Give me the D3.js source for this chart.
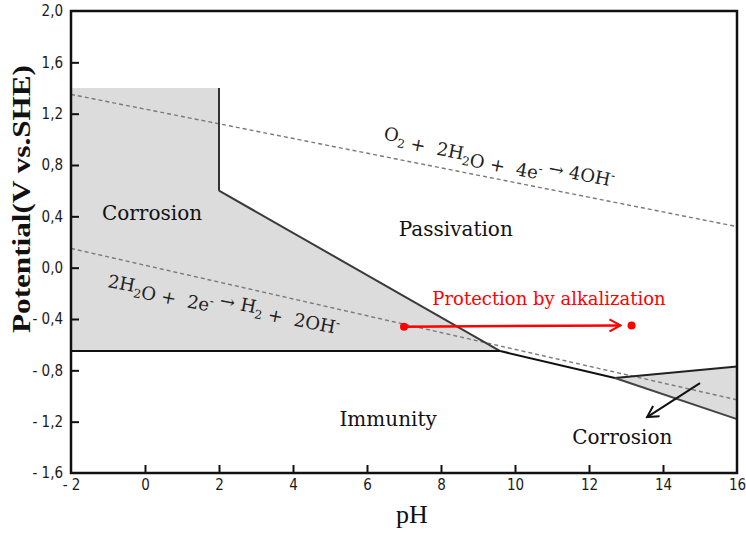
<!DOCTYPE html>
<html lang="en">
  <head>
    <meta charset="UTF-8" />
    <script src="https://cdn.jsdelivr.net/npm/d3@7"></script>
    <style>
      * {
        margin: 0;
        padding: 0;
      }
      body {
        background: #fff;
      }
      #chart {
        width: 746px;
        height: 534px;
        overflow: hidden;
      }
      .tick text {
        font-family: 'Liberation Sans Narrow', 'DejaVu Sans Condensed', sans-serif;
        font-stretch: condensed;
        font-size: 15px;
        fill: #1a1a1a;
      }
      .eq {
        white-space: pre;
      }
    </style>
    <title>Pourbaix</title>
  </head>
  <body>
    <div id="chart"></div>
  </body>
  <script>
    // axes
    const pHTicks = [-2, 0, 2, 4, 6, 8, 10, 12, 14, 16];
    const pHTickLabels = ['- 2', '0', '2', '4', '6', '8', '10', '12', '14', '16'];
    const potentialTicks = [-1.6, -1.2, -0.8, -0.4, 0.0, 0.4, 0.8, 1.2, 1.6, 2.0];
    const potentialTickLabels = ['- 1,6', '- 1,2', '- 0,8', '- 0,4', '0,0', '0,4', '0,8', '1,2', '1,6', '2,0'];

    // regions [pH, V]
    const corrosionAcid = [[-2, 1.4], [2, 1.4], [2, 0.6], [9.6, -0.65], [-2, -0.65]];
    const corrosionAlkaline = [[12.7, -0.86], [16, -0.77], [16, -1.18]];

    // boundaries
    const boundaryVertical = [[2, 1.4], [2, 0.6]];
    const boundaryDiagonal = [[2, 0.6], [9.6, -0.65]];
    const boundaryImmunity = [[-2, -0.65], [9.6, -0.65]];
    const boundaryPassive = [[9.6, -0.65], [12.7, -0.86]];
    const boundaryUpper = [[12.7, -0.86], [16, -0.77]];
    const boundaryLower = [[12.7, -0.86], [16, -1.18]];

    // water lines
    const oxygenLine = [[-2, 1.35], [16, 0.32]];
    const hydrogenLine = [[-2, 0.15], [16, -1.03]];

    // arrows
    const alkalizationPoints = [[7.0, -0.46], [13.15, -0.45]];
    const alkalizationArrow = [[7.0, -0.46], [12.85, -0.45]];
    const corrosionArrow = [[15.0, -0.9], [13.57, -1.164]];

    const regionLabels = [
      { text: 'Corrosion', pH: 0.19, v: 0.37 },
      { text: 'Passivation', pH: 8.4, v: 0.25 },
      { text: 'Immunity', pH: 6.57, v: -1.23 },
      { text: 'Corrosion', pH: 12.9, v: -1.375 },
    ];

    const width = 746;
    const height = 534;

    const x = d3.scaleLinear().domain([-2, 16]).range([71, 737]);
    const y = d3.scaleLinear().domain([-1.6, 2.0]).range([473, 11]);
    const line = d3
      .line()
      .x((d) => x(d[0]))
      .y((d) => y(d[1]));

    const svg = d3
      .select('#chart')
      .append('svg')
      .attr('width', width)
      .attr('height', height);

    const defs = svg.append('defs');
    const addMarker = (id, color) => {
      defs
        .append('marker')
        .attr('id', id)
        .attr('viewBox', '0 0 14 14')
        .attr('refX', 12)
        .attr('refY', 7)
        .attr('markerWidth', 14)
        .attr('markerHeight', 14)
        .attr('markerUnits', 'userSpaceOnUse')
        .attr('orient', 'auto')
        .append('path')
        .attr('d', 'M1,1 L12,7 L1,13')
        .attr('fill', 'none')
        .attr('stroke', color)
        .attr('stroke-width', 2);
    };
    addMarker('arrowRed', '#ff0000');
    addMarker('arrowBlack', '#111');

    // shaded regions
    svg
      .selectAll('path.region')
      .data([corrosionAcid, corrosionAlkaline])
      .join('path')
      .attr('class', 'region')
      .attr('d', (d) => line(d) + 'Z')
      .attr('fill', '#dcdcdc');

    // dashed water lines
    svg
      .selectAll('path.water')
      .data([oxygenLine, hydrogenLine])
      .join('path')
      .attr('class', 'water')
      .attr('d', line)
      .attr('fill', 'none')
      .attr('stroke', '#7a7a7a')
      .attr('stroke-width', 1.4)
      .attr('stroke-dasharray', '4,3');

    // boundaries
    const boundaries = [
      { pts: boundaryVertical, color: '#333' },
      { pts: boundaryDiagonal, color: '#3a3a3a' },
      { pts: boundaryImmunity, color: '#111' },
      { pts: boundaryPassive, color: '#111' },
      { pts: boundaryUpper, color: '#222' },
      { pts: boundaryLower, color: '#444' },
    ];
    svg
      .selectAll('path.boundary')
      .data(boundaries)
      .join('path')
      .attr('class', 'boundary')
      .attr('d', (d) => line(d.pts))
      .attr('fill', 'none')
      .attr('stroke', (d) => d.color)
      .attr('stroke-width', 2);

    // axes
    const xAxis = d3
      .axisBottom(x)
      .tickValues(pHTicks)
      .tickSize(-8)
      .tickPadding(6)
      .tickFormat((d, i) => pHTickLabels[i]);
    const yAxis = d3
      .axisLeft(y)
      .tickValues(potentialTicks)
      .tickSize(-8)
      .tickPadding(8)
      .tickFormat((d, i) => potentialTickLabels[i]);

    const gx = svg.append('g').attr('transform', 'translate(0,473)').call(xAxis);
    const gy = svg.append('g').attr('transform', 'translate(71,0)').call(yAxis);
    [gx, gy].forEach((g) => {
      g.attr('font-family', null).attr('font-size', null);
      g.select('.domain').remove();
      g.selectAll('.tick line').attr('stroke', '#111').attr('stroke-width', 2);
    });
    gx.selectAll('.tick line').filter((d) => d === -2 || d === 16).remove();
    gy.selectAll('.tick line').filter((d) => d === -1.6 || d === 2.0).remove();

    // frame
    svg
      .append('rect')
      .attr('x', x(-2))
      .attr('y', y(2.0))
      .attr('width', x(16) - x(-2))
      .attr('height', y(-1.6) - y(2.0))
      .attr('fill', 'none')
      .attr('stroke', '#111')
      .attr('stroke-width', 2.5);

    // region labels
    svg
      .selectAll('text.region-label')
      .data(regionLabels)
      .join('text')
      .attr('class', 'region-label')
      .attr('x', (d) => x(d.pH))
      .attr('y', (d) => y(d.v))
      .attr('text-anchor', 'middle')
      .attr('font-family', 'DejaVu Serif')
      .attr('font-size', 20)
      .attr('fill', '#111')
      .text((d) => d.text);

    // equations, rotated along water lines
    const drawEquation = (parts, pH, v, angle) => {
      const t = svg
        .append('text')
        .attr('class', 'eq')
        .attr('transform', `translate(${x(pH)},${y(v)}) rotate(${angle})`)
        .attr('font-family', 'DejaVu Serif')
        .attr('font-size', 18)
        .attr('fill', '#222');
      parts.forEach((p) => {
        const shift = p.sub ? 5 : p.sup ? -7 : 0;
        t.append('tspan')
          .attr('dy', shift)
          .attr('font-size', p.sub || p.sup ? 12 : 18)
          .text(p.t);
        if (shift) t.append('tspan').attr('dy', -shift).text('');
      });
    };

    drawEquation(
      [
        { t: 'O' }, { t: '2', sub: true }, { t: ' +  2H' }, { t: '2', sub: true },
        { t: 'O +  4e' }, { t: '-', sup: true }, { t: ' \u2192 4OH' }, { t: '-', sup: true },
      ],
      6.43, 1.0, 10.9
    );
    drawEquation(
      [
        { t: '2H' }, { t: '2', sub: true }, { t: 'O +  2e' }, { t: '-', sup: true },
        { t: ' \u2192 H' }, { t: '2', sub: true }, { t: ' +  2OH' }, { t: '-', sup: true },
      ],
      -1.03, -0.15, 10.8
    );

    // protection by alkalization
    svg
      .append('path')
      .attr('d', line(alkalizationArrow))
      .attr('stroke', '#ff0000')
      .attr('stroke-width', 2.5)
      .attr('marker-end', 'url(#arrowRed)');
    svg
      .selectAll('circle.alk')
      .data(alkalizationPoints)
      .join('circle')
      .attr('class', 'alk')
      .attr('cx', (d) => x(d[0]))
      .attr('cy', (d) => y(d[1]))
      .attr('r', 4)
      .attr('fill', '#ff0000');
    svg
      .append('text')
      .text('Protection by alkalization')
      .attr('x', x(10.92))
      .attr('y', y(-0.29))
      .attr('text-anchor', 'middle')
      .attr('font-family', 'DejaVu Serif')
      .attr('font-size', 18)
      .attr('fill', '#ff0000');

    // arrow to alkaline corrosion
    svg
      .append('path')
      .attr('d', line(corrosionArrow))
      .attr('stroke', '#111')
      .attr('stroke-width', 2)
      .attr('marker-end', 'url(#arrowBlack)');

    // axis titles
    svg
      .append('text')
      .text('Potential(V vs.SHE)')
      .attr('transform', 'translate(30,199) rotate(-90)')
      .attr('text-anchor', 'middle')
      .attr('font-family', 'Liberation Serif')
      .attr('font-weight', 'bold')
      .attr('font-size', 25)
      .attr('textLength', 268)
      .attr('lengthAdjust', 'spacingAndGlyphs')
      .attr('fill', '#111');
    svg
      .append('text')
      .text('pH')
      .attr('x', 412)
      .attr('y', 523)
      .attr('text-anchor', 'middle')
      .attr('font-family', 'Liberation Serif')
      .attr('font-size', 26)
      .attr('fill', '#111');
  </script>
</html>
